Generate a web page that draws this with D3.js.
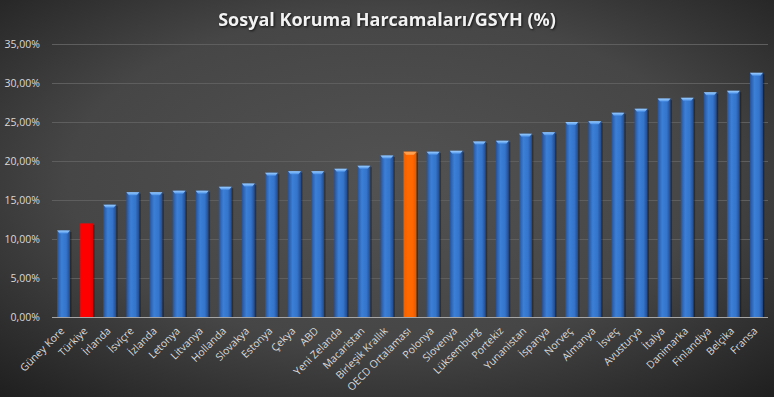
<!DOCTYPE html>
<html>
<head>
<meta charset="utf-8">
<script src="https://cdn.jsdelivr.net/npm/d3@7"></script>
<style>
  html, body { margin: 0; padding: 0; background: #333; }
  #chart { width: 774px; height: 397px; }
  text { font-family: "Open Sans", "Noto Sans", sans-serif; }
</style>
</head>
<body>
<div id="chart"></div>
<script>
const countries = ['Güney Kore', 'Türkiye', 'İrlanda', 'İsviçre', 'İzlanda', 'Letonya', 'Litvanya', 'Hollanda',
  'Slovakya', 'Estonya', 'Çekya', 'ABD', 'Yeni Zelanda', 'Macaristan', 'Birleşik Krallık', 'OECD Ortalaması',
  'Polonya', 'Slovenya', 'Lüksemburg', 'Portekiz', 'Yunanistan', 'İspanya', 'Norveç', 'Almanya', 'İsveç',
  'Avusturya', 'İtalya', 'Danimarka', 'Finlandiya', 'Belçika', 'Fransa'];
const values = [11.1, 12.0, 14.4, 16.0, 16.0, 16.2, 16.2, 16.7, 17.1, 18.5, 18.7, 18.7, 19.0, 19.4, 20.7, 21.2,
  21.2, 21.3, 22.5, 22.6, 23.5, 23.7, 25.0, 25.1, 26.2, 26.7, 28.0, 28.1, 28.8, 29.0, 31.3];
const yTicks = [0, 5, 10, 15, 20, 25, 30, 35];
const highlight = {'Türkiye': 'red', 'OECD Ortalaması': 'orange'};

const width = 774, height = 397;
const margin = {top: 44, right: 6, bottom: 80, left: 52};

const svg = d3.select('#chart').append('svg')
  .attr('width', width)
  .attr('height', height);

const defs = svg.append('defs');

// background
const bg = defs.append('radialGradient').attr('id', 'bg')
  .attr('cx', '50%').attr('cy', '45%').attr('r', '75%');
bg.append('stop').attr('offset', '0%').attr('stop-color', '#525252');
bg.append('stop').attr('offset', '55%').attr('stop-color', '#464646');
bg.append('stop').attr('offset', '100%').attr('stop-color', '#1e1e1e');

const grads = {
  blue: ['#25529a', '#3b7fd6', '#3575cc', '#22498a'],
  red: ['#ff0000', '#ff0000', '#ff0000', '#e00000'],
  orange: ['#f06000', '#ff6a00', '#ff6600', '#e05a00']
};
Object.entries(grads).forEach(([k, c]) => {
  const g = defs.append('linearGradient').attr('id', 'bar-' + k)
    .attr('x1', '0%').attr('x2', '100%').attr('y1', '0%').attr('y2', '0%');
  g.append('stop').attr('offset', '0%').attr('stop-color', c[0]);
  g.append('stop').attr('offset', '35%').attr('stop-color', c[1]);
  g.append('stop').attr('offset', '70%').attr('stop-color', c[2]);
  g.append('stop').attr('offset', '100%').attr('stop-color', c[3]);
});
const topGrad = defs.append('linearGradient').attr('id', 'bar-top')
  .attr('x1', '0%').attr('x2', '0%').attr('y1', '0%').attr('y2', '100%');
topGrad.append('stop').attr('offset', '0%').attr('stop-color', '#9fd0ff');
topGrad.append('stop').attr('offset', '100%').attr('stop-color', '#4a90e8');

svg.append('rect')
  .attr('width', width).attr('height', height)
  .attr('fill', 'url(#bg)');

const x = d3.scaleBand()
  .domain(countries)
  .range([margin.left, width - margin.right])
  .paddingInner(0.44)
  .paddingOuter(0.22);

const y = d3.scaleLinear()
  .domain([0, 35])
  .range([height - margin.bottom, margin.top]);

// gridlines
svg.append('g')
  .selectAll('line')
  .data(yTicks.filter(d => d > 0))
  .join('line')
  .attr('x1', margin.left)
  .attr('x2', width - margin.right)
  .attr('y1', d => y(d) + 0.5)
  .attr('y2', d => y(d) + 0.5)
  .attr('stroke', '#5e5e5e')
  .attr('stroke-width', 1);

// y labels
svg.append('g')
  .selectAll('text')
  .data(yTicks)
  .join('text')
  .attr('x', 40)
  .attr('y', d => y(d))
  .attr('dy', '0.35em')
  .attr('text-anchor', 'end')
  .attr('fill', '#d9d9d9')
  .attr('font-size', 10.5)
  .text(d => d.toFixed(2).replace('.', ',') + '%');

// bars
const bars = svg.append('g')
  .selectAll('g')
  .data(countries.map((c, i) => ({name: c, value: values[i]})))
  .join('g');

bars.append('rect')
  .attr('x', d => x(d.name) + 1.5)
  .attr('y', d => y(d.value) + 1.5)
  .attr('width', x.bandwidth())
  .attr('height', d => y(0) - y(d.value) - 1.5)
  .attr('fill', 'rgba(0,0,0,0.35)');

bars.append('rect')
  .attr('x', d => x(d.name))
  .attr('y', d => y(d.value))
  .attr('width', x.bandwidth())
  .attr('height', d => y(0) - y(d.value))
  .attr('fill', d => `url(#bar-${highlight[d.name] || 'blue'})`);

bars.filter(d => !highlight[d.name] || highlight[d.name] === 'orange')
  .append('path')
  .attr('d', d => {
    const x0 = x(d.name), x1 = x0 + x.bandwidth(), t = y(d.value);
    return `M${x0},${t}H${x1}L${x1 - 2.5},${t + 3}H${x0 + 2.5}Z`;
  })
  .attr('fill', d => highlight[d.name] === 'orange' ? '#ffa050' : 'url(#bar-top)');

// axis baseline
svg.append('line')
  .attr('x1', margin.left)
  .attr('x2', width - margin.right)
  .attr('y1', y(0) + 0.5)
  .attr('y2', y(0) + 0.5)
  .attr('stroke', '#a6a6a6');

// x labels
svg.append('g')
  .selectAll('text')
  .data(countries)
  .join('text')
  .attr('transform', d => `translate(${x(d) + x.bandwidth() / 2 - 1},${y(0) + 12}) rotate(-45)`)
  .attr('text-anchor', 'end')
  .attr('dy', '0.35em')
  .attr('fill', '#d9d9d9')
  .attr('font-size', 10.5)
  .text(d => d);

// title
svg.append('text')
  .attr('x', 387)
  .attr('y', 26)
  .attr('text-anchor', 'middle')
  .attr('fill', '#f2f2f2')
  .attr('font-size', 18)
  .attr('font-weight', 'bold')
  .style('filter', 'drop-shadow(1px 1px 1px rgba(0,0,0,0.7))')
  .text('Sosyal Koruma Harcamaları/GSYH (%)');
</script>
</body>
</html>
